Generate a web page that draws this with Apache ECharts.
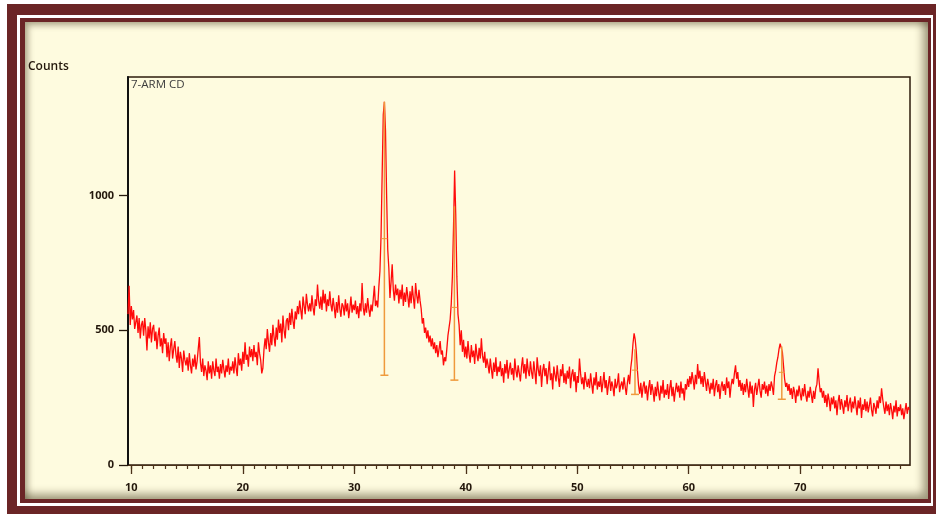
<!DOCTYPE html>
<html lang="en">
<head>
<meta charset="utf-8">
<title>7-ARM CD</title>
<script src="https://cdn.jsdelivr.net/npm/echarts@6/dist/echarts.min.js"></script>
<style>
  html, body { margin: 0; padding: 0; background: #ffffff; }
  #page { position: relative; width: 936px; height: 514px; overflow: hidden; }
  .band { position: absolute; }
  #outer { left: 7px; top: 4px; width: 929px; height: 510px; background: #6b2526; }
  #ring { left: 17px; top: 15px; width: 916px; height: 491px; background: #ffffff; }
  #inner { left: 20px; top: 18px; width: 911px; height: 485px; background: #6b2526; }
  #paper {
    left: 25px; top: 22px; width: 903px; height: 477px; background: #fefbdf;
    box-shadow: inset 4px 4px 6px -1px rgba(70, 60, 30, 0.45),
                inset -6px -6px 8px -1px rgba(70, 60, 30, 0.5);
  }
  #chart { position: absolute; left: 0; top: 0; width: 936px; height: 514px; }
</style>
</head>
<body>
<div id="page">
  <div class="band" id="outer"></div>
  <div class="band" id="ring"></div>
  <div class="band" id="inner"></div>
  <div class="band" id="paper"></div>
  <div id="chart"></div>
</div>

<script>
  // scan grid (2theta, degrees)
  var scanStart = 9.7;
  var scanStep = 0.1;

  // counts, one row per degree (first row 9.7-9.9, last row 79.0-79.8)
  var counts = [
    560, 665, 520,
    590, 540, 575, 505, 530, 555, 490, 545, 470, 520,   // 10
    535, 480, 545, 500, 425, 515, 470, 530, 455, 505,   // 11
    520, 460, 495, 430, 480, 510, 440, 470, 415, 490,   // 12
    450, 470, 400, 455, 385, 440, 470, 395, 430, 460,   // 13
    410, 380, 440, 360, 420, 395, 345, 425, 390, 370,   // 14
    400, 350, 415, 370, 340, 395, 365, 410, 355, 385,   // 15
    430, 475, 380, 345, 395, 330, 370, 350, 315, 385,   // 16
    340, 370, 320, 385, 350, 330, 395, 345, 365, 320,   // 17
    375, 340, 390, 355, 325, 370, 345, 395, 335, 365,   // 18
    350, 385, 340, 400, 360, 330, 415, 370, 395, 350,   // 19
    420, 375, 455, 390, 410, 365, 440, 400, 430, 385,   // 20
    445, 400, 420, 370, 455, 415, 390, 340, 360, 430,   // 21
    470, 430, 505, 455, 420, 490, 445, 520, 475, 440,   // 22
    510, 465, 540, 490, 525, 455, 555, 500, 470, 535,   // 23
    545, 500, 565, 520, 580, 535, 505, 570, 540, 590,   // 24
    560, 610, 575, 540, 625, 590, 560, 635, 595, 570,   // 25
    600, 570, 630, 585, 555, 615, 590, 670, 610, 580,   // 26
    625, 575, 650, 600, 635, 570, 615, 590, 645, 595,   // 27
    570, 620, 585, 545, 605, 565, 630, 580, 550, 600,   // 28
    590, 555, 615, 570, 600, 545, 580, 625, 565, 595,   // 29
    575, 610, 560, 590, 545, 600, 570, 675, 585, 555,   // 30
    600, 565, 620, 580, 550, 595, 570, 615, 665, 590,   // 31
    610, 585, 660, 720, 850, 1080, 1300, 1348, 1240, 1000, // 32
    800, 730, 620, 680, 745, 650, 610, 670, 630, 655,   // 33
    600, 650, 615, 670, 590, 640, 605, 660, 625, 585,   // 34
    645, 600, 665, 620, 580, 675, 630, 600, 650, 610,   // 35
    580, 525, 545, 490, 510, 470, 500, 455, 480, 440,   // 36
    470, 430, 455, 415, 445, 400, 430, 460, 410, 425,   // 37
    370, 400, 385, 430, 480, 510, 540, 600, 700, 880,   // 38
    1093, 930, 700, 560, 520, 445, 500, 420, 465, 400,  // 39
    440, 395, 460, 410, 380, 445, 400, 425, 375, 450,   // 40
    410, 385, 435, 395, 470, 405, 380, 420, 360, 395,   // 41
    370, 340, 395, 355, 320, 380, 345, 400, 330, 365,   // 42
    345, 385, 330, 360, 305, 375, 340, 390, 320, 355,   // 43
    380, 335, 360, 315, 395, 350, 325, 370, 340, 310,   // 44
    365, 400, 340, 375, 320, 395, 350, 330, 385, 345,   // 45
    320, 385, 345, 300, 400, 355, 330, 370, 290, 350,   // 46
    375, 330, 360, 300, 345, 385, 315, 340, 280, 365,   // 47
    335, 310, 370, 325, 290, 355, 330, 375, 305, 340,   // 48
    300, 350, 320, 365, 285, 335, 355, 310, 345, 270,   // 49
    330, 305, 395, 340, 300, 325, 280, 345, 310, 290,   // 50
    320, 285, 340, 300, 265, 325, 295, 345, 280, 310,   // 51
    290, 330, 270, 305, 345, 285, 315, 260, 300, 330,   // 52
    275, 310, 290, 255, 320, 285, 300, 340, 270, 295,   // 53
    310, 280, 325, 290, 260, 305, 335, 300, 360, 395,   // 54
    450, 489, 465, 420, 350, 295, 265, 305, 250, 290,   // 55
    310, 265, 295, 240, 285, 315, 260, 300, 275, 235,   // 56
    290, 255, 310, 270, 240, 295, 265, 315, 250, 280,   // 57
    260, 300, 245, 285, 315, 255, 290, 235, 275, 305,   // 58
    270, 295, 250, 310, 265, 285, 240, 300, 280, 320,   // 59
    290, 330, 300, 345, 315, 280, 335, 300, 375, 320,   // 60
    350, 300, 330, 290, 345, 310, 275, 320, 295, 265,   // 61
    305, 280, 320, 255, 295, 315, 270, 300, 245, 290,   // 62
    310, 275, 300, 260, 325, 285, 310, 250, 295, 320,   // 63
    300, 340, 370, 320, 345, 290, 315, 275, 305, 260,   // 64
    300, 270, 320, 285, 250, 310, 265, 295, 215, 280,   // 65
    305, 260, 290, 320, 275, 250, 300, 280, 310, 265,   // 66
    295, 255, 300, 275, 310, 290, 260, 330, 350, 380,   // 67
    400, 430, 450, 456, 420, 370, 320, 290, 305, 275,   // 68
    300, 260, 285, 245, 290, 270, 230, 280, 255, 295,   // 69
    265, 240, 285, 255, 300, 260, 235, 275, 250, 290,   // 70
    260, 230, 275, 245, 285, 300, 359, 310, 270, 285,   // 71
    250, 275, 230, 260, 215, 265, 240, 200, 250, 225,   // 72
    255, 210, 240, 185, 235, 260, 205, 245, 220, 190,   // 73
    240, 215, 260, 200, 230, 250, 195, 235, 210, 255,   // 74
    220, 185, 240, 210, 250, 175, 225, 205, 245, 200,   // 75
    235, 195, 220, 250, 205, 180, 230, 215, 190, 240,   // 76
    210, 255, 230, 285, 245, 215, 190, 235, 200, 225,   // 77
    185, 230, 205, 170, 220, 195, 240, 180, 215, 200,   // 78
    225, 185, 210, 170, 200, 230, 190, 215, 205         // 79
  ];

  // reference peak markers: position, bottom, top, middle tick
  var stickPos = [32.7, 38.98, 55.18, 68.35];
  var stickLow = [333, 315, 262, 244];
  var stickHigh = [1348, 960, 430, 440];
  var stickMid = [840, 585, 352, 344];

  var xMajorTicks = [10, 20, 30, 40, 50, 60, 70];
  var xMinorTicks = [];
  for (var t = 10; t <= 79; t++) xMinorTicks.push(t);
  var yTicks = [0, 500, 1000];

  var scan = counts.map(function (c, i) {
    return [Math.round((scanStart + i * scanStep) * 10) / 10, c];
  });
  var sticks = stickPos.map(function (p, i) {
    return [p, stickLow[i], stickHigh[i], stickMid[i]];
  });

  var ink = '#24180c';
  var stickColor = '#ef9a3c';
  var font = '"Open Sans", "DejaVu Sans", sans-serif';

  var chart = echarts.init(document.getElementById('chart'), null, { renderer: 'canvas' });
  chart.setOption({
    animation: false,
    backgroundColor: 'transparent',
    grid: {
      left: 128, right: 26, top: 77, bottom: 49,
      show: true,
      borderColor: '#2e1c0c',
      borderWidth: 1.5,
      backgroundColor: 'transparent'
    },
    graphic: [
      {
        type: 'text', left: 28, top: 61,
        style: { text: 'Counts', fill: ink, font: '600 12px ' + font }
      },
      {
        type: 'text', left: 131, top: 79,
        style: { text: '7-ARM CD', fill: '#3d3d3d', font: '11.5px ' + font }
      }
    ],
    xAxis: [
      {
        type: 'value', min: 9.7, max: 79.85, position: 'bottom',
        axisLine: { show: true, lineStyle: { color: '#4a3018', width: 1 } },
        axisTick: { show: true, length: 9, customValues: xMajorTicks, lineStyle: { color: '#4a3018', width: 1.3 } },
        axisLabel: {
          show: true, customValues: xMajorTicks, margin: 17,
          color: ink, fontFamily: font, fontSize: 11, fontWeight: 'bold'
        },
        splitLine: { show: false }
      },
      {
        type: 'value', min: 9.7, max: 79.85, position: 'bottom',
        axisLine: { show: false },
        axisTick: { show: true, length: 4, customValues: xMinorTicks, lineStyle: { color: '#4a3018', width: 1.2 } },
        axisLabel: { show: false },
        splitLine: { show: false }
      }
    ],
    yAxis: {
      type: 'value', min: 0, max: 1440,
      axisLine: { show: true, lineStyle: { color: '#111111', width: 2 } },
      axisTick: { show: true, length: 9, customValues: yTicks, lineStyle: { color: ink, width: 1.3 } },
      axisLabel: {
        show: true, customValues: yTicks, margin: 14,
        color: ink, fontFamily: font, fontSize: 11, fontWeight: 'bold',
        formatter: function (v) { return String(v); }
      },
      splitLine: { show: false }
    },
    series: [
      {
        name: '7-ARM CD',
        type: 'line',
        xAxisIndex: 0,
        data: scan,
        showSymbol: false,
        symbol: 'none',
        lineStyle: { color: '#ff0a0a', width: 1.3 },
        z: 2
      },
      {
        name: 'reference',
        type: 'custom',
        xAxisIndex: 0,
        data: sticks,
        encode: { x: 0, y: [1, 2] },
        z: 3,
        renderItem: function (params, api) {
          var x = api.value(0);
          var bot = api.coord([x, api.value(1)]);
          var top = api.coord([x, api.value(2)]);
          var mid = api.coord([x, api.value(3)]);
          var st = { stroke: stickColor, lineWidth: 1.5 };
          return {
            type: 'group',
            children: [
              { type: 'line', shape: { x1: top[0], y1: top[1], x2: bot[0], y2: bot[1] }, style: st },
              { type: 'line', shape: { x1: bot[0] - 4, y1: bot[1], x2: bot[0] + 4, y2: bot[1] }, style: st },
              { type: 'line', shape: { x1: mid[0] - 3, y1: mid[1], x2: mid[0] + 3, y2: mid[1] }, style: { stroke: stickColor, lineWidth: 1 } }
            ]
          };
        }
      }
    ]
  });
</script>
</body>
</html>
